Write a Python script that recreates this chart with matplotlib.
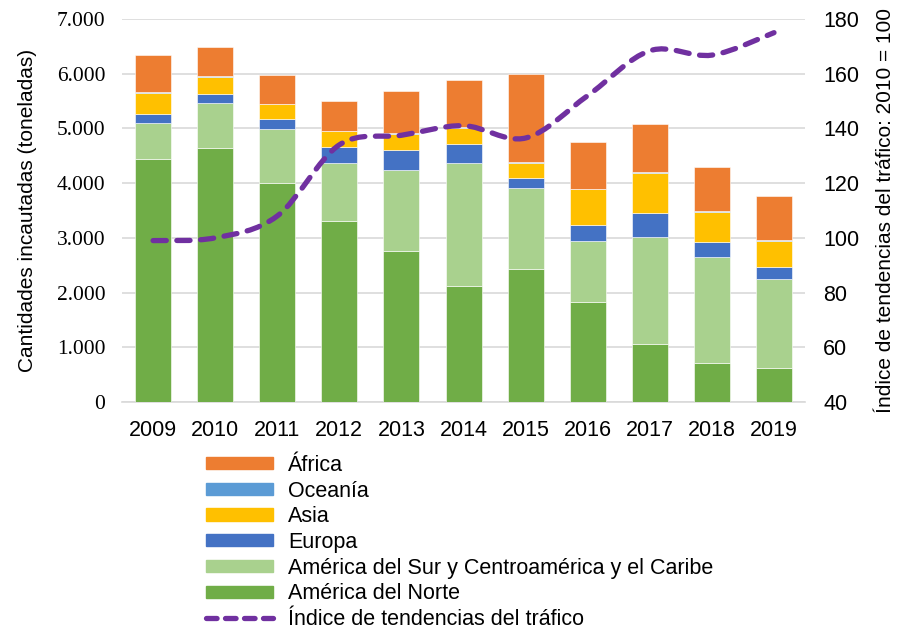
import matplotlib
matplotlib.use("Agg")
import matplotlib.pyplot as plt
from matplotlib.path import Path
from matplotlib.patches import PathPatch, Patch
from matplotlib.lines import Line2D
import numpy as np

# values
years = ["2009", "2010", "2011", "2012", "2013", "2014", "2015", "2016", "2017", "2018", "2019"]
norte = [4450, 4650, 4000, 3300, 2765, 2120, 2430, 1830, 1066, 720, 627]
sur = [650, 816, 985, 1075, 1475, 2255, 1480, 1110, 1955, 1936, 1616]
europa = [165, 160, 185, 285, 360, 345, 190, 296, 430, 274, 230]
asia = [385, 315, 270, 290, 300, 290, 270, 654, 735, 546, 473]
oceania = [15, 10, 10, 10, 10, 10, 10, 10, 20, 10, 10]
africa = [680, 530, 535, 550, 780, 866, 1620, 860, 870, 814, 810]
indice = [99, 100, 108, 134, 137.5, 141, 136.5, 152, 168.4, 166.8, 175]

series = [
    ("América del Norte", norte, "#70AD47"),
    ("América del Sur y Centroamérica y el Caribe", sur, "#A9D18E"),
    ("Europa", europa, "#4472C4"),
    ("Asia", asia, "#FFC000"),
    ("Oceanía", oceania, "#5B9BD5"),
    ("África", africa, "#ED7D31"),
]
line_color = "#7030A0"

plt.rcParams["font.family"] = ["Liberation Sans", "DejaVu Sans"]
plt.rcParams["font.size"] = 15

fig = plt.figure(figsize=(9, 6.29), dpi=100)
ax = fig.add_axes([0.1356, 0.3609, 0.7589, 0.6089])

x = np.arange(len(years))
bottom = np.zeros(len(years))
for name, vals, col in series:
    ax.bar(x, vals, 0.58, bottom=bottom, color=col, edgecolor="white", linewidth=0.4, zorder=3)
    bottom += np.array(vals)

ax.set_xlim(-0.5, len(years) - 0.5)
ax.set_ylim(0, 7000)
ax.set_yticks(range(0, 7001, 1000))
ax.set_yticklabels(["0"] + ["{:,}".format(v).replace(",", ".") for v in range(1000, 7001, 1000)],
                   family=["Liberation Serif", "DejaVu Serif"], fontsize=15.5)
ax.set_xticks(x)
ax.set_xticklabels(years, fontsize=15.5)
ax.tick_params(axis="both", length=0)
ax.tick_params(axis="x", pad=13)
ax.tick_params(axis="y", pad=12)
ax.grid(axis="y", color="#D9D9D9", linewidth=1.2, zorder=0)
for s in ["top", "right", "left"]:
    ax.spines[s].set_visible(False)
ax.spines["bottom"].set_color("#D9D9D9")
ax.spines["bottom"].set_linewidth(1.2)
ax.set_ylabel("Cantidades incautadas (toneladas)", fontsize=15, labelpad=14)

ax2 = ax.twinx()
ax2.set_ylim(40, 180)
ax2.set_yticks(range(40, 181, 20))
ax2.tick_params(axis="y", length=0, pad=13, labelsize=15.5)
for s in ax2.spines.values():
    s.set_visible(False)
ax2.set_ylabel("Índice de tendencias del tráfico: 2010 = 100", fontsize=15, labelpad=12)

# smoothed line (Catmull-Rom as bezier segments)
px = list(x.astype(float))
py = list(indice)
n = len(px)
verts = [(px[0], py[0])]
codes = [Path.MOVETO]
for i in range(n - 1):
    i0 = max(i - 1, 0)
    i3 = min(i + 2, n - 1)
    c1 = (px[i] + (px[i + 1] - px[i0]) / 6, py[i] + (py[i + 1] - py[i0]) / 6)
    c2 = (px[i + 1] - (px[i3] - px[i]) / 6, py[i + 1] - (py[i3] - py[i]) / 6)
    verts += [c1, c2, (px[i + 1], py[i + 1])]
    codes += [Path.CURVE4] * 3
patch = PathPatch(Path(verts, codes), facecolor="none", edgecolor=line_color, linewidth=3.8,
                  linestyle=(0, (2.5, 2.0)), capstyle="round", zorder=5)
ax2.add_patch(patch)

handles = [Patch(color=c) for _, _, c in series[::-1]]
labels = [nm for nm, _, _ in series[::-1]]
handles.append(Line2D([], [], color=line_color, linewidth=3.8, linestyle=(0, (2.0, 1.6)),
                      dash_capstyle="round"))
labels.append("Índice de tendencias del tráfico")
fig.legend(handles, labels, loc="upper left", bbox_to_anchor=(0.229, 0.277), frameon=False,
           fontsize=15.5, handlelength=3.1, handleheight=0.5, handletextpad=0.7,
           labelspacing=0.22, borderaxespad=0, borderpad=0)

plt.savefig("out.png", dpi=100)
